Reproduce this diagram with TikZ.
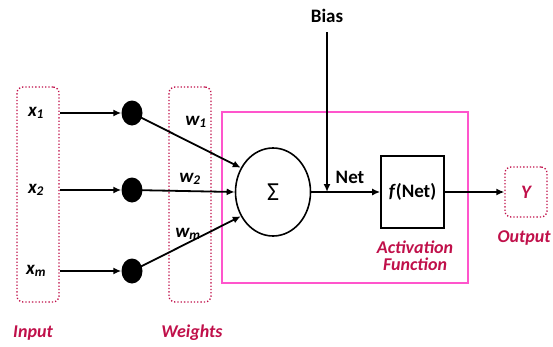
\documentclass[tikz,border=0pt]{standalone}
\usepackage{fontspec}
\setmainfont{Carlito}
\usetikzlibrary{arrows.meta,shapes.geometric}
\definecolor{crim}{HTML}{C0104A}
\definecolor{pinkbox}{HTML}{FF55CC}
\tikzset{
  lbl/.style={font=\fontsize{19}{21}\selectfont\bfseries},
  clbl/.style={font=\fontsize{18}{20}\selectfont\bfseries\itshape, text=crim},
  dotbox/.style={draw=crim, line width=1.3pt, dotted, rounded corners=6pt},
  conn/.style={line width=1.8pt, -{Latex[length=8pt,width=7pt]}},
  dotnode/.style={fill=black, ellipse, minimum width=21pt, minimum height=25pt, inner sep=0pt},
}
\begin{document}
\begin{tikzpicture}[x=1pt,y=-1pt]
\useasboundingbox (0,0) rectangle (553,346);
% boxes
\node[dotbox, minimum width=42pt, minimum height=215pt, inner sep=0pt] (inbox) at (38,194.5) {};
\node[dotbox, minimum width=42pt, minimum height=215pt, inner sep=0pt] (wbox) at (190,194.5) {};
\node[draw=pinkbox, line width=1.3pt, minimum width=246pt, minimum height=171pt, inner sep=0pt] (pbox) at (345,197.5) {};
% inputs
\node[lbl] (x1) at (36,113) {\itshape x\textsubscript{1}};
\node[lbl] (x2) at (36,190) {\itshape x\textsubscript{2}};
\node[lbl] (xm) at (36,271) {\itshape x\textsubscript{m}};
\coordinate (x1e) at (60,113);
\coordinate (x2e) at (60,190);
\coordinate (xme) at (60,271);
% dots
\node[dotnode] (d1) at (132,113) {};
\node[dotnode] (d2) at (132,190) {};
\node[dotnode] (dm) at (132,271) {};
% sum
\node[draw, ellipse, line width=1.6pt, minimum width=75pt, minimum height=88pt, inner sep=0pt, font=\fontsize{26}{28}\selectfont] (sum) at (273,192) {Σ};
% f(Net)
\node[draw, line width=1.6pt, minimum width=63pt, minimum height=72pt, inner sep=0pt, lbl] (f) at (412.5,192) {\textit{f}(Net)};
% Y
\node[dotbox, minimum width=42pt, minimum height=50pt, inner sep=0pt, font=\fontsize{19}{21}\selectfont\bfseries\itshape, text=crim] (Y) at (526,192) {Y};
% bias
\node[lbl, anchor=center] (bias) at (327,16) {Bias};
\coordinate (bt) at (327,32);
\coordinate (bj) at (327,192);
% arrows
\draw[conn] (x1e) -- (d1);
\draw[conn] (x2e) -- (d2);
\draw[conn] (xme) -- (dm);
\draw[conn] (d1.center) -- (sum.143);
\draw[conn] (d2.center) -- (sum.west);
\draw[conn] (dm.center) -- (sum.217);
\node[lbl] (w1) at (196,122) {\itshape w\textsubscript{1}};
\node[lbl] (w2) at (190,179) {\itshape w\textsubscript{2}};
\node[lbl] (wm) at (188,234) {\itshape w\textsubscript{m}};
\draw[conn] (bt) -- (bj);
\draw[conn] (sum.east) -- (f.west);
\node[lbl] (net) at (350,177) {Net};
\draw[conn] (f.east) -- (Y.west);
% labels
\node[clbl] (inl) at (33,333) {Input};
\node[clbl] (wl) at (192,333) {Weights};
\node[clbl] (outl) at (524,238) {Output};
\node[clbl, align=center] (actl) at (415,256) {Activation\\[-3pt]Function};
\end{tikzpicture}
\end{document}
